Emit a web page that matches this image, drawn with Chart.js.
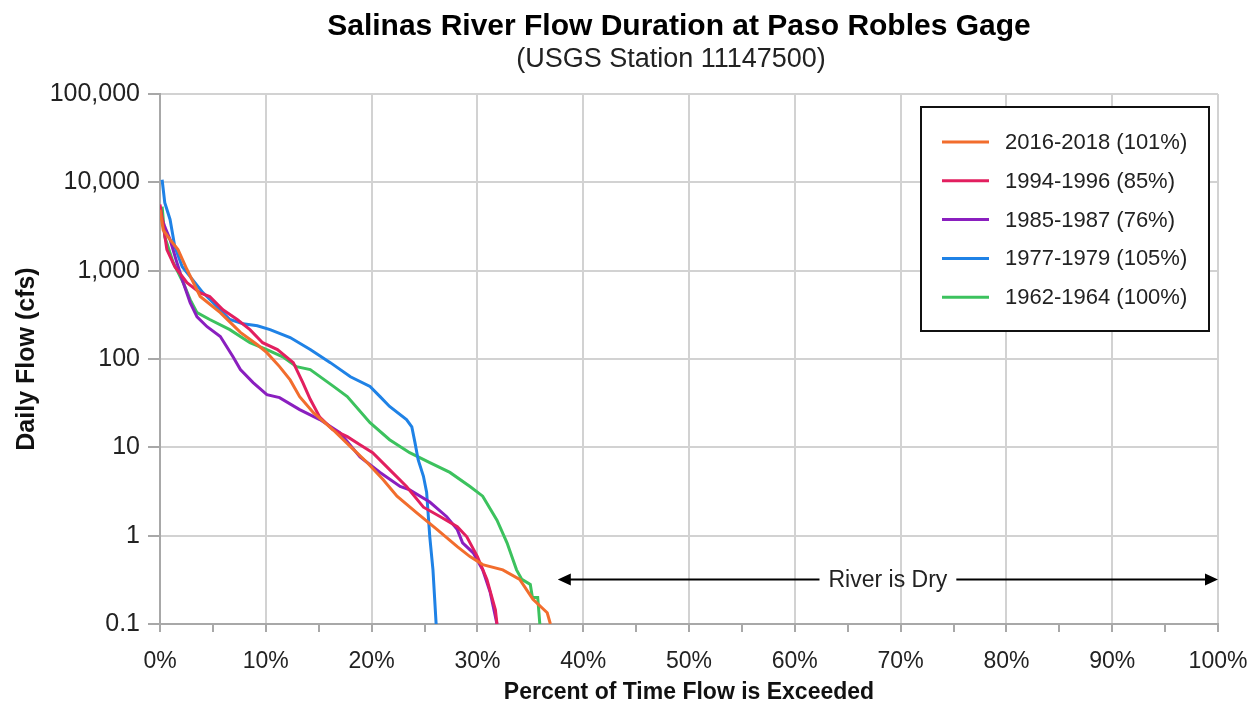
<!DOCTYPE html>
<html>
<head>
<meta charset="utf-8">
<script src="https://cdn.jsdelivr.net/npm/chart.js@4.4.1/dist/chart.umd.min.js"></script>
<style>
  html, body { margin: 0; padding: 0; background: #fff; }
</style>
</head>
<body>
<canvas id="chart" width="1252" height="704"></canvas>
<script>
// values: percent of time exceeded / daily flow (cfs)
var seriesLabels = ['2016-2018 (101%)', '1994-1996 (85%)', '1985-1987 (76%)', '1977-1979 (105%)', '1962-1964 (100%)'];
var seriesColors = ['#f26d2d', '#e21f5f', '#8a1fbf', '#1f82e6', '#3cc25e'];

var pct2016 = [0, 0.3, 0.95, 1.7, 2.55, 3.8, 5.7, 7.6, 9.2, 10.1, 11.3, 12.3, 13.2, 14.5, 16.35, 18, 19.6, 21.1, 22.4, 24.3, 26.2, 28.1, 29.3, 30.5, 32.4, 34, 35.25, 36.6, 36.9];
var flow2016 = [4900, 2900, 2250, 1730, 1030, 510, 335, 200, 145, 118, 82, 58, 37.5, 24.7, 15.8, 10.2, 6.7, 4.3, 2.8, 1.8, 1.17, 0.75, 0.58, 0.47, 0.41, 0.32, 0.19, 0.134, 0.1];

var pct1994 = [0, 0.3, 0.65, 1.4, 2.55, 3.8, 4.7, 5.95, 7.3, 8.5, 9.7, 11.1, 12.6, 13.5, 14.2, 15.1, 16.35, 17.7, 18.9, 20.1, 21.7, 23.3, 24.9, 26.5, 28.1, 29, 30, 30.9, 31.7, 31.85];
var flow1994 = [5600, 3300, 1730, 1110, 730, 560, 510, 360, 280, 215, 153, 128, 91, 54, 35, 22, 15.8, 13.2, 10.7, 8.7, 5.6, 3.6, 2.1, 1.64, 1.26, 0.97, 0.58, 0.32, 0.145, 0.1];

var pct1985 = [0, 0.45, 0.95, 1.6, 2.2, 2.85, 3.5, 4.45, 5.7, 6.9, 7.6, 8.8, 10.1, 11.3, 13.2, 15.1, 17, 18.9, 20.8, 22.7, 23.6, 25.5, 27.1, 28.1, 28.6, 29.6, 30.5, 31.2, 31.85];
var flow1985 = [4500, 3150, 2250, 1230, 730, 435, 300, 232, 180, 106, 76, 54, 39.5, 36.5, 26.7, 20.6, 14.7, 7.8, 5.2, 3.6, 3.3, 2.4, 1.64, 1.17, 0.83, 0.64, 0.41, 0.23, 0.1];

var pct1977 = [0.2, 0.45, 0.95, 1.4, 2.1, 2.85, 4.05, 5.4, 6.6, 7.85, 9.2, 10.4, 12.3, 14.2, 16.1, 18, 19.85, 20.8, 21.7, 23.3, 23.8, 24.1, 24.4, 24.9, 25.2, 25.5, 25.8, 26.1];
var flow1977 = [10700, 5900, 3800, 1870, 1110, 855, 565, 390, 280, 250, 238, 215, 175, 128, 91, 63, 49, 37.5, 29, 20.6, 17.1, 11.3, 7.25, 4.7, 3.1, 0.97, 0.41, 0.1];

var pct1962 = [0.2, 0.45, 1.25, 2.2, 2.85, 3.5, 4.7, 6.6, 8.5, 10.1, 11.6, 12.9, 14.2, 16.4, 17.7, 19.85, 21.7, 23.6, 25.5, 27.4, 29.3, 30.5, 31.85, 32.8, 33.7, 34.2, 35, 35.2, 35.7, 35.9];
var flow1962 = [5300, 2430, 1230, 730, 470, 335, 280, 215, 153, 128, 106, 82, 76, 49, 37.5, 19, 12.2, 8.7, 6.7, 5.2, 3.6, 2.8, 1.5, 0.83, 0.41, 0.32, 0.28, 0.2, 0.2, 0.1];

var yTicks = [0.1, 1, 10, 100, 1000, 10000, 100000];
var xTicks = [0, 10, 20, 30, 40, 50, 60, 70, 80, 90, 100];

var allPct = [pct2016, pct1994, pct1985, pct1977, pct1962];
var allFlow = [flow2016, flow1994, flow1985, flow1977, flow1962];

var FONT = '"Liberation Sans", Arial, sans-serif';
var TEXT = '#222';

var datasets = seriesLabels.map((label, i) => {
    return {
        label: label,
        data: allPct[i].map((p, j) => ({x: p, y: allFlow[i][j]})),
        borderColor: seriesColors[i],
        backgroundColor: seriesColors[i],
        borderWidth: 3,
        pointRadius: 0,
        tension: 0,
        fill: false
    };
});

// title, subtitle, boxed legend and the "River is Dry" arrow
var decor = {
    id: 'decor',
    afterDraw(chart) {
        var ctx = chart.ctx,
            area = chart.chartArea,
            xs = chart.scales.x,
            ys = chart.scales.y;
        ctx.save();
        ctx.fillStyle = '#000';
        ctx.textAlign = 'center';
        ctx.textBaseline = 'middle';
        ctx.font = 'bold 30px ' + FONT;
        ctx.fillText('Salinas River Flow Duration at Paso Robles Gage', 679, 27);
        ctx.fillStyle = TEXT;
        ctx.font = '27px ' + FONT;
        ctx.fillText('(USGS Station 11147500)', 671, 60);

        // legend
        var lx = area.right - 297, ly = area.top + 13;
        ctx.fillStyle = '#fff';
        ctx.fillRect(lx, ly, 288, 224);
        ctx.strokeStyle = '#111';
        ctx.lineWidth = 2;
        ctx.strokeRect(lx, ly, 288, 224);
        ctx.font = '22px ' + FONT;
        ctx.textAlign = 'left';
        chart.data.datasets.forEach((ds, i) => {
            var yy = ly + 35 + i * 38.8;
            ctx.strokeStyle = ds.borderColor;
            ctx.lineWidth = 3;
            ctx.beginPath();
            ctx.moveTo(lx + 21, yy);
            ctx.lineTo(lx + 68, yy);
            ctx.stroke();
            ctx.fillStyle = TEXT;
            ctx.fillText(ds.label, lx + 84, yy + 1);
        });

        // river is dry
        var y = ys.getPixelForValue(0.32),
            x1 = xs.getPixelForValue(37.6),
            x2 = xs.getPixelForValue(100),
            xm = xs.getPixelForValue(68.8),
            label = 'River is Dry';
        ctx.font = '23px ' + FONT;
        var w = ctx.measureText(label).width;
        ctx.fillStyle = TEXT;
        ctx.textAlign = 'center';
        ctx.fillText(label, xm, y + 1);
        ctx.strokeStyle = '#000';
        ctx.lineWidth = 2;
        ctx.beginPath();
        ctx.moveTo(x1 + 10, y);
        ctx.lineTo(xm - w / 2 - 9, y);
        ctx.moveTo(xm + w / 2 + 9, y);
        ctx.lineTo(x2 - 10, y);
        ctx.stroke();
        ctx.fillStyle = '#000';
        ctx.beginPath();
        ctx.moveTo(x1, y);
        ctx.lineTo(x1 + 13, y - 6);
        ctx.lineTo(x1 + 13, y + 6);
        ctx.closePath();
        ctx.moveTo(x2, y);
        ctx.lineTo(x2 - 13, y - 6);
        ctx.lineTo(x2 - 13, y + 6);
        ctx.closePath();
        ctx.fill();
        ctx.restore();
    }
};

new Chart(document.getElementById('chart'), {
    type: 'line',
    data: { datasets: datasets },
    options: {
        responsive: false,
        animation: false,
        layout: { padding: { top: 94, right: 0, left: 0, bottom: 0 } },
        plugins: {
            legend: { display: false },
            title: { display: false },
            tooltip: { enabled: false }
        },
        scales: {
            x: {
                type: 'linear',
                min: 0,
                max: 100,
                afterBuildTicks: (scale) => {
                    var t = [];
                    for (var v = 0; v <= 100; v += 5) t.push({value: v});
                    scale.ticks = t;
                },
                afterFit: (scale) => {
                    scale.height = 80;
                    scale.paddingRight = 34;
                },
                ticks: {
                    autoSkip: false,
                    maxRotation: 0,
                    padding: 16,
                    color: TEXT,
                    font: { family: FONT, size: 23 },
                    callback: (v) => (xTicks.indexOf(v) >= 0 ? v + '%' : '')
                },
                grid: {
                    color: (c) => (c.tick && xTicks.indexOf(c.tick.value) >= 0 ? '#d2d2d2' : 'rgba(0,0,0,0)'),
                    tickColor: '#a8a8a8',
                    lineWidth: 2,
                    tickLength: 8
                },
                border: { color: '#a8a8a8', width: 2 },
                title: {
                    display: true,
                    text: 'Percent of Time Flow is Exceeded',
                    color: '#111',
                    font: { family: FONT, size: 23, weight: 'bold', lineHeight: 1 },
                    padding: { top: 0, bottom: 0 }
                }
            },
            y: {
                type: 'logarithmic',
                min: 0.1,
                max: 100000,
                afterBuildTicks: (scale) => {
                    scale.ticks = yTicks.map((v) => ({value: v}));
                },
                afterFit: (scale) => {
                    scale.width = 160;
                },
                ticks: {
                    autoSkip: false,
                    padding: 8,
                    color: TEXT,
                    font: { family: FONT, size: 25 },
                    callback: (v) => v.toLocaleString('en-US')
                },
                grid: {
                    color: '#d2d2d2',
                    tickColor: '#a8a8a8',
                    lineWidth: 2,
                    tickLength: 12
                },
                border: { color: '#a8a8a8', width: 2 },
                title: {
                    display: true,
                    text: 'Daily Flow (cfs)',
                    color: '#111',
                    font: { family: FONT, size: 25, weight: 'bold', lineHeight: 1 },
                    padding: { top: 15, bottom: 0 }
                }
            }
        }
    },
    plugins: [decor]
});
</script>
</body>
</html>
